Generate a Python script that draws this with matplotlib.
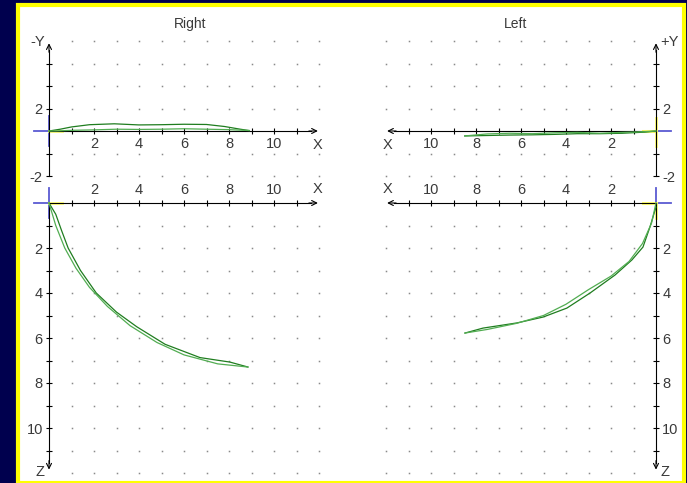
import numpy as np
import matplotlib.pyplot as plt
from matplotlib.patches import Rectangle
from matplotlib.ticker import FixedLocator, FixedFormatter

plt.rcParams['font.family'] = ['Liberation Sans', 'DejaVu Sans']

W, H = 687, 483
U = 22.5  # pixels per unit

NAVY = "#00004e"
YELLOW = "#ffff00"
PALE_YEL = "#ffff70"
CROSS_BLUE = "#5a5ad2"
DARK_GREEN = "#1f7d1f"
LIGHT_GREEN = "#52ad52"
DOT = "#8a8a8a"
LABEL = "#3a3a3a"

# --- traces (units: x along X axis, y up / z down) ---
rt_out_x = [0, 0.5, 1.0, 1.8, 2.9, 4.0, 5.0, 6.0, 7.0, 7.8, 8.5, 8.9]
rt_out_y = [0, 0.08, 0.18, 0.28, 0.32, 0.27, 0.28, 0.3, 0.29, 0.2, 0.08, 0.02]
rt_back_x = [8.9, 8.0, 7.0, 6.0, 5.0, 4.0, 3.0, 2.0, 1.0, 0.3, 0]
rt_back_y = [0.02, 0.06, 0.08, 0.1, 0.08, 0.07, 0.08, 0.05, 0.03, 0.0, 0]

lt_out_x = [0, 0.5, 1.5, 2.5, 3.5, 4.5, 5.5, 6.5, 7.5, 8.5]
lt_out_y = [0, -0.05, -0.1, -0.12, -0.12, -0.15, -0.17, -0.18, -0.2, -0.22]
lt_back_x = [8.5, 7.5, 6.5, 5.5, 4.5, 3.5, 2.5, 1.5, 0.5, 0]
lt_back_y = [-0.22, -0.13, -0.1, -0.12, -0.08, -0.06, -0.1, -0.06, -0.03, 0]

rb_out_x = [0, 0.3, 0.55, 0.85, 1.4, 2.1, 3.0, 3.9, 5.16, 6.71, 8.04, 8.84]
rb_out_z = [0, 0.5, 1.2, 2.0, 3.0, 4.0, 4.85, 5.5, 6.28, 6.87, 7.07, 7.29]
rb_back_x = [8.84, 7.5, 6.0, 4.8, 3.6, 2.6, 1.8, 1.2, 0.7, 0.3, 0]
rb_back_z = [7.29, 7.15, 6.75, 6.2, 5.45, 4.6, 3.75, 2.9, 2.0, 1.0, 0]

lb_out_x = [0, 0.27, 0.58, 1.07, 1.82, 2.93, 3.96, 5.02, 6.18, 7.69, 8.49]
lb_out_z = [0.18, 1.07, 1.96, 2.53, 3.2, 4.0, 4.67, 5.07, 5.33, 5.56, 5.78]
lb_back_x = [8.49, 7.5, 6.2, 5.0, 4.0, 3.0, 2.0, 1.2, 0.6, 0.2, 0]
lb_back_z = [5.78, 5.62, 5.35, 5.0, 4.5, 3.85, 3.25, 2.6, 1.8, 0.9, 0]

x_ticks = list(range(1, 12))
x_labels = [str(t) if t % 2 == 0 else "" for t in x_ticks]
y_ticks = [-2, -1, 1, 2, 3]
y_labels = ["-2", "", "2", "", ""]
z_ticks = list(range(1, 12))
z_labels = [str(t) if t % 2 == 0 else "" for t in z_ticks]

AX_END = 11.95
Y_END = 3.9
Z_END = 11.85
CROSS = 0.65

fig = plt.figure(figsize=(W / 100, H / 100), dpi=100)
fig.patch.set_facecolor(NAVY)
fig.patches.append(Rectangle((18 / W, 0), (684 - 18) / W, (H - 5) / H,
                             transform=fig.transFigure, fc="white",
                             ec=YELLOW, lw=3.0, zorder=-10))


def arrow(ax, tip, tail):
    ax.annotate("", xy=tip, xytext=tail,
                arrowprops=dict(arrowstyle="->", color="black", lw=0.8,
                                mutation_scale=9, shrinkA=0, shrinkB=0))


def panel(ox, oy, px0, px1, py0, py1, left_side, down):
    ax = fig.add_axes([px0 / W, 1 - py1 / H, (px1 - px0) / W, (py1 - py0) / H])
    ax.patch.set_alpha(0)
    if left_side:
        ax.set_xlim((ox - px0) / U, (ox - px1) / U)
    else:
        ax.set_xlim((px0 - ox) / U, (px1 - ox) / U)
    if down:
        ax.set_ylim((py1 - oy) / U, (py0 - oy) / U)
    else:
        ax.set_ylim((oy - py1) / U, (oy - py0) / U)
    for s in ax.spines.values():
        s.set_visible(False)

    vs = "right" if left_side else "left"
    hs = "top" if down else "bottom"
    ax.spines[vs].set_visible(True)
    ax.spines[vs].set_position(("data", 0))
    ax.spines[hs].set_visible(True)
    ax.spines[hs].set_position(("data", 0))
    ax.spines[hs].set_bounds(0, AX_END - 0.3)
    for s in (vs, hs):
        ax.spines[s].set_linewidth(0.8)

    ax.xaxis.set_ticks_position(hs)
    ax.yaxis.set_ticks_position(vs)
    ax.xaxis.set_major_locator(FixedLocator(x_ticks))
    ax.xaxis.set_major_formatter(FixedFormatter(x_labels))
    if down:
        ax.spines[vs].set_bounds(0, Z_END - 0.3)
        ax.yaxis.set_major_locator(FixedLocator(z_ticks))
        ax.yaxis.set_major_formatter(FixedFormatter(z_labels))
    else:
        ax.spines[vs].set_bounds(-2, Y_END - 0.3)
        ax.yaxis.set_major_locator(FixedLocator(y_ticks))
        ax.yaxis.set_major_formatter(FixedFormatter(y_labels))
    ax.tick_params(direction="inout", length=5, width=0.8, labelsize=10.5,
                   labelcolor=LABEL, pad=2)

    # dotted grid
    gx = np.arange(1, 13)
    gy = np.arange(1, 13) if down else np.array([-2, -1, 1, 2, 3, 4])
    mx, my = np.meshgrid(gx, gy)
    ax.plot(mx.ravel(), my.ravel(), ls="none", marker="s", ms=1.1,
            mew=0, color=DOT, zorder=1)

    # axis arrows
    arrow(ax, (AX_END, 0), (AX_END - 0.4, 0))
    vend = Z_END if down else Y_END
    arrow(ax, (0, vend), (0, vend - 0.4))

    # axis letters
    ax.annotate("X", xy=(AX_END, 0), xytext=(0, -5 if not down else 5),
                textcoords="offset points", ha="center",
                va="top" if not down else "bottom", fontsize=10.5, color=LABEL)
    if down:
        ax.annotate("Z", xy=(0, Z_END), xytext=(3 if left_side else -3, -2),
                    textcoords="offset points",
                    ha="left" if left_side else "right", va="center",
                    fontsize=10.5, color=LABEL)
    else:
        ax.annotate("+Y" if left_side else "-Y", xy=(0, Y_END),
                    xytext=(3 if left_side else -3, 1),
                    textcoords="offset points",
                    ha="left" if left_side else "right", va="center",
                    fontsize=10.5, color=LABEL)
    return ax


def crosses(ax, left_side, down):
    lw = 1.3
    if not left_side:
        ax.plot([0, 0], [-CROSS, CROSS], color=CROSS_BLUE, lw=lw, zorder=2)
        ax.plot([-CROSS, 0], [0, 0], color=CROSS_BLUE, lw=lw, zorder=2)
        ax.plot([0, CROSS * 0.9], [0, 0], color=PALE_YEL, lw=2, zorder=2)
    else:
        ax.plot([0, -CROSS], [0, 0], color=CROSS_BLUE, lw=lw, zorder=2)
        ax.plot([0, CROSS * 0.9], [0, 0], color=PALE_YEL, lw=2.2, zorder=2)
        if down:
            ax.plot([0, 0], [-CROSS, 0], color=CROSS_BLUE, lw=lw, zorder=2)
            ax.plot([0, 0], [0, CROSS], color=PALE_YEL, lw=2, zorder=2)
        else:
            ax.plot([0, 0], [-CROSS, CROSS * 0.9], color=PALE_YEL, lw=2, zorder=2)


def trace(ax, x0, y0, x1, y1):
    ax.plot(x0, y0, color=DARK_GREEN, lw=0.9, zorder=4)
    ax.plot(x1, y1, color=LIGHT_GREEN, lw=0.9, zorder=4)


ax_rt = panel(49, 131, 20, 335, 30, 185, False, False)
crosses(ax_rt, False, False)
trace(ax_rt, rt_out_x, rt_out_y, rt_back_x, rt_back_y)

ax_rb = panel(49, 203, 20, 335, 183, 478, False, True)
crosses(ax_rb, False, True)
trace(ax_rb, rb_out_x, rb_out_z, rb_back_x, rb_back_z)

ax_lt = panel(656, 131, 368, 681, 30, 185, True, False)
crosses(ax_lt, True, False)
trace(ax_lt, lt_out_x, lt_out_y, lt_back_x, lt_back_y)

ax_lb = panel(656, 203, 368, 681, 183, 478, True, True)
crosses(ax_lb, True, True)
trace(ax_lb, lb_out_x, lb_out_z, lb_back_x, lb_back_z)

fig.text(190 / W, 1 - 24 / H, "Right", ha="center", va="center",
         fontsize=10, color=LABEL)
fig.text(516 / W, 1 - 24 / H, "Left", ha="center", va="center",
         fontsize=10, color=LABEL)

fig.savefig("out.png", dpi=100, facecolor=NAVY)
